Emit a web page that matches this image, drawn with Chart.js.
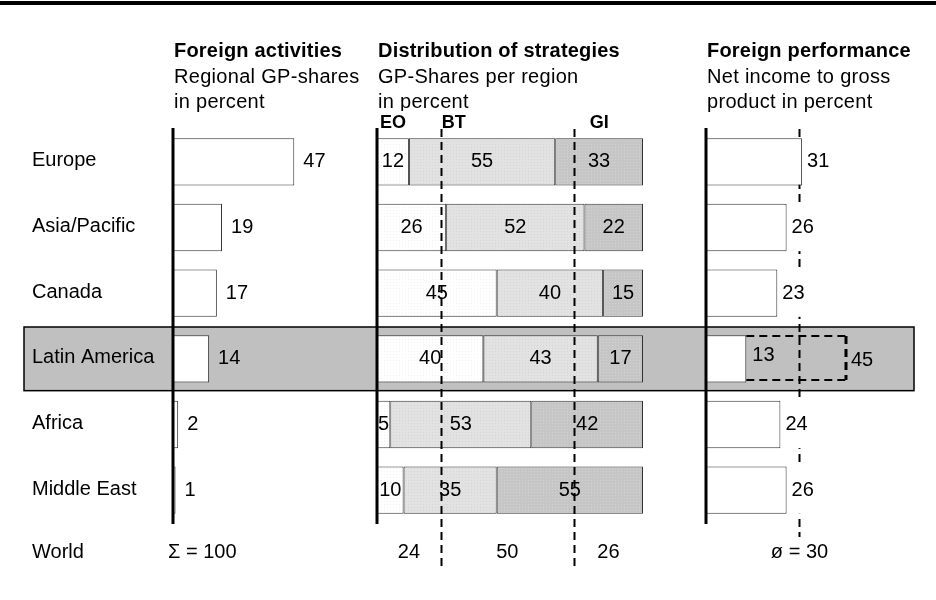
<!DOCTYPE html>
<html lang="en">
<head>
    <meta charset="UTF-8">
    <title>Foreign activities, strategies and performance</title>
    <script src="https://cdn.jsdelivr.net/npm/chart.js"></script>
    <style>
        body { margin: 0; background: white; }
        .page { position: relative; width: 936px; height: 600px; overflow: hidden; }
        .top-rule { position: absolute; left: 0; top: 1px; width: 936px; height: 4px; background: black; }
        .page canvas { position: absolute; left: 0; top: 0; }
    </style>
</head>
<body>
    <div class="page">
        <div class="top-rule"></div>
        <canvas id="sharesChart" width="936" height="600"></canvas>
        <canvas id="strategyChart" width="936" height="600"></canvas>
        <canvas id="incomeChart" width="936" height="600"></canvas>
    </div>

    <script>
        // data
        const regions = ['Europe', 'Asia/Pacific', 'Canada', 'Latin America', 'Africa', 'Middle East'];
        const gpShares = [47, 19, 17, 14, 2, 1];
        const eoShares = [12, 26, 45, 40, 5, 10];
        const btShares = [55, 52, 40, 43, 53, 35];
        const giShares = [33, 22, 15, 17, 42, 55];
        const netIncome = [31, 26, 23, 13, 24, 26];
        const strategyNames = ['EO', 'BT', 'GI'];
        const worldStrategy = [24, 50, 26];
        const worldShareTotal = 100;
        const worldIncomeAvg = 30;
        const highlightRegion = 'Latin America';
        const highlightPotential = 45;

        const FONT = '"Liberation Sans", Arial, sans-serif';
        const TOP = 129, BOTTOM = 77;

        function drawText(ctx, s, x, y, font, align, base, spacing) {
            ctx.save();
            ctx.font = font;
            if (spacing) ctx.letterSpacing = spacing;
            ctx.fillStyle = '#000';
            ctx.textAlign = align || 'left';
            ctx.textBaseline = base || 'middle';
            ctx.fillText(s, x, y);
            ctx.restore();
        }

        function drawHeader(ctx, x, lines) {
            drawText(ctx, lines[0], x, 57, 'bold 20px ' + FONT, 'left', 'alphabetic', '0.2px');
            drawText(ctx, lines[1], x, 83, '20px ' + FONT, 'left', 'alphabetic', '0.3px');
            drawText(ctx, lines[2], x, 108, '20px ' + FONT, 'left', 'alphabetic', '0.3px');
        }

        function drawAxis(chart) {
            const ctx = chart.ctx, a = chart.chartArea;
            const x0 = Math.round(chart.scales.x.getPixelForValue(0));
            ctx.save();
            ctx.strokeStyle = '#000';
            ctx.lineWidth = 3;
            ctx.beginPath();
            ctx.moveTo(x0, a.top - 1);
            ctx.lineTo(x0, a.bottom + 1);
            ctx.stroke();
            ctx.restore();
        }

        function dashedLine(ctx, x1, y1, x2, y2, width) {
            ctx.save();
            ctx.strokeStyle = '#000';
            ctx.lineWidth = width || 2;
            ctx.setLineDash([8, 5]);
            ctx.beginPath();
            ctx.moveTo(x1, y1);
            ctx.lineTo(x2, y2);
            ctx.stroke();
            ctx.restore();
        }

        function dotPattern(base, dot) {
            const c = document.createElement('canvas');
            c.width = 3; c.height = 3;
            const g = c.getContext('2d');
            g.fillStyle = base;
            g.fillRect(0, 0, 3, 3);
            g.fillStyle = dot;
            g.fillRect(0, 0, 1, 1);
            return g.createPattern(c, 'repeat');
        }

        function baseOptions(padLeft, padRight, xMax, stacked) {
            return {
                indexAxis: 'y',
                responsive: false,
                animation: false,
                events: [],
                layout: { padding: { top: TOP, bottom: BOTTOM, left: padLeft, right: padRight } },
                plugins: { legend: { display: false }, tooltip: { enabled: false } },
                scales: {
                    x: { type: 'linear', min: 0, max: xMax, display: false, stacked: stacked },
                    y: { type: 'category', display: false, stacked: stacked }
                }
            };
        }

        // Left: regional GP-shares
        const sharesPlugin = {
            id: 'sharesDeco',
            beforeDatasetsDraw(chart) {
                const ctx = chart.ctx, a = chart.chartArea;
                const i = regions.indexOf(highlightRegion);
                const cy = chart.scales.y.getPixelForValue(i);
                const h = a.height / regions.length - 2;
                ctx.save();
                ctx.fillStyle = '#c0c0c0';
                ctx.fillRect(24, cy - h / 2, 890, h);
                ctx.strokeStyle = '#000';
                ctx.lineWidth = 1.5;
                ctx.strokeRect(24, cy - h / 2, 890, h);
                ctx.restore();
            },
            afterDatasetsDraw(chart) {
                const ctx = chart.ctx, a = chart.chartArea;
                const x0 = chart.scales.x.getPixelForValue(0);
                drawAxis(chart);
                chart.getDatasetMeta(0).data.forEach((bar, i) => {
                    drawText(ctx, String(gpShares[i]), bar.x + 9, bar.y, '20px ' + FONT);
                    drawText(ctx, regions[i], 32, bar.y - 1, '20px ' + FONT);
                });
                const wy = a.bottom + 29;
                drawText(ctx, 'World', 32, wy, '20px ' + FONT);
                drawText(ctx, '\u03A3 = ' + worldShareTotal, x0 - 5, wy, '20px ' + FONT);
                drawHeader(ctx, x0 + 1, ['Foreign activities', 'Regional GP-shares', 'in percent']);
            }
        };

        new Chart(document.getElementById('sharesChart'), {
            type: 'bar',
            data: {
                labels: regions,
                datasets: [{
                    data: gpShares,
                    backgroundColor: '#ffffff',
                    borderColor: '#333333',
                    borderWidth: 1,
                    borderSkipped: false,
                    barPercentage: 0.72,
                    categoryPercentage: 1
                }]
            },
            options: baseOptions(173, 634, 50, false),
            plugins: [sharesPlugin]
        });

        // Middle: distribution of strategies
        const strategyPlugin = {
            id: 'strategyDeco',
            afterDatasetsDraw(chart) {
                const ctx = chart.ctx, a = chart.chartArea, x = chart.scales.x;
                drawAxis(chart);
                const series = [eoShares, btShares, giShares];
                series.forEach((vals, d) => {
                    chart.getDatasetMeta(d).data.forEach((bar, i) => {
                        drawText(ctx, String(vals[i]), (bar.base + bar.x) / 2, bar.y, '20px ' + FONT, 'center');
                    });
                });
                // header; the strategy names sit on a white strip that clips the last line
                drawHeader(ctx, x.getPixelForValue(0) + 1, ['Distribution of strategies', 'GP-Shares per region', 'in percent']);
                ctx.save();
                ctx.fillStyle = '#fff';
                ctx.fillRect(x.getPixelForValue(0) + 2, 111, x.getPixelForValue(100) - x.getPixelForValue(0), 18);
                ctx.restore();
                let cum = 0;
                const cuts = [];
                worldStrategy.forEach((v, k) => {
                    const l = x.getPixelForValue(cum), r = x.getPixelForValue(cum + v);
                    drawText(ctx, String(v), (l + r) / 2, a.bottom + 29, '20px ' + FONT, 'center');
                    cum += v;
                    if (k < worldStrategy.length - 1) cuts.push(r);
                });
                const nameX = [x.getPixelForValue(0) + 3, cuts[0] + 1, cuts[1] + 16];
                strategyNames.forEach((n, k) => {
                    drawText(ctx, n, nameX[k], 128, 'bold 18px ' + FONT, 'left', 'alphabetic');
                });
                cuts.forEach(cx => dashedLine(ctx, Math.round(cx) + 0.5, 129, Math.round(cx) + 0.5, a.bottom + 45, 2));
            }
        };

        const segment = { borderColor: '#333333', borderWidth: 1, borderSkipped: false, barPercentage: 0.72, categoryPercentage: 1 };

        new Chart(document.getElementById('strategyChart'), {
            type: 'bar',
            data: {
                labels: regions,
                datasets: [
                    Object.assign({ label: 'EO', data: eoShares, backgroundColor: dotPattern('#ffffff', '#f2f2f2') }, segment),
                    Object.assign({ label: 'BT', data: btShares, backgroundColor: dotPattern('#e2e2e2', '#d6d6d6') }, segment),
                    Object.assign({ label: 'GI', data: giShares, backgroundColor: dotPattern('#c6c6c6', '#d2d2d2') }, segment)
                ]
            },
            options: baseOptions(377, 293, 100, true),
            plugins: [strategyPlugin]
        });

        // Right: net income to gross product
        const incomePlugin = {
            id: 'incomeDeco',
            beforeDatasetsDraw(chart) {
                // average line runs behind the bars
                const a = chart.chartArea;
                const ax = Math.round(chart.scales.x.getPixelForValue(worldIncomeAvg)) + 0.5;
                dashedLine(chart.ctx, ax, a.top, ax, a.bottom + 14, 2);
            },
            afterDatasetsDraw(chart) {
                const ctx = chart.ctx, a = chart.chartArea, x = chart.scales.x;
                drawAxis(chart);
                const hi = regions.indexOf(highlightRegion);
                ctx.save();
                ctx.font = '20px ' + FONT;
                chart.getDatasetMeta(0).data.forEach((bar, i) => {
                    if (i === hi) return;
                    const s = String(netIncome[i]);
                    const w = ctx.measureText(s).width;
                    ctx.fillStyle = '#fff';
                    ctx.fillRect(bar.x + 2, bar.y - bar.height / 2, w + 6, bar.height);
                    drawText(ctx, s, bar.x + 5, bar.y, '20px ' + FONT);
                });
                ctx.restore();
                // potential of the highlighted region, dashed outline
                const hb = chart.getDatasetMeta(0).data[hi];
                const half = hb.height / 2;
                const xs = hb.x, xe = Math.round(x.getPixelForValue(highlightPotential));
                const yt = Math.round(hb.y - half) + 1, yb = Math.round(hb.y + half) - 2;
                dashedLine(ctx, xs, yt, xe, yt, 2);
                dashedLine(ctx, xs, yb, xe, yb, 2);
                dashedLine(ctx, xe, yt, xe, yb, 3);
                drawText(ctx, String(netIncome[hi]), xs + 6, hb.y - 3, '20px ' + FONT);
                drawText(ctx, String(highlightPotential), xe + 5, hb.y + 2, '20px ' + FONT);
                const ax = Math.round(x.getPixelForValue(worldIncomeAvg)) + 0.5;
                drawText(ctx, '\u00F8 = ' + worldIncomeAvg, ax, a.bottom + 29, '20px ' + FONT, 'center');
                drawHeader(ctx, x.getPixelForValue(0) + 1, ['Foreign performance', 'Net income to gross', 'product in percent']);
            }
        };

        new Chart(document.getElementById('incomeChart'), {
            type: 'bar',
            data: {
                labels: regions,
                datasets: [{
                    data: netIncome,
                    backgroundColor: '#ffffff',
                    borderColor: '#333333',
                    borderWidth: 1,
                    borderSkipped: false,
                    barPercentage: 0.72,
                    categoryPercentage: 1
                }]
            },
            options: baseOptions(706, 75, 50, false),
            plugins: [incomePlugin]
        });
    </script>
</body>
</html>
